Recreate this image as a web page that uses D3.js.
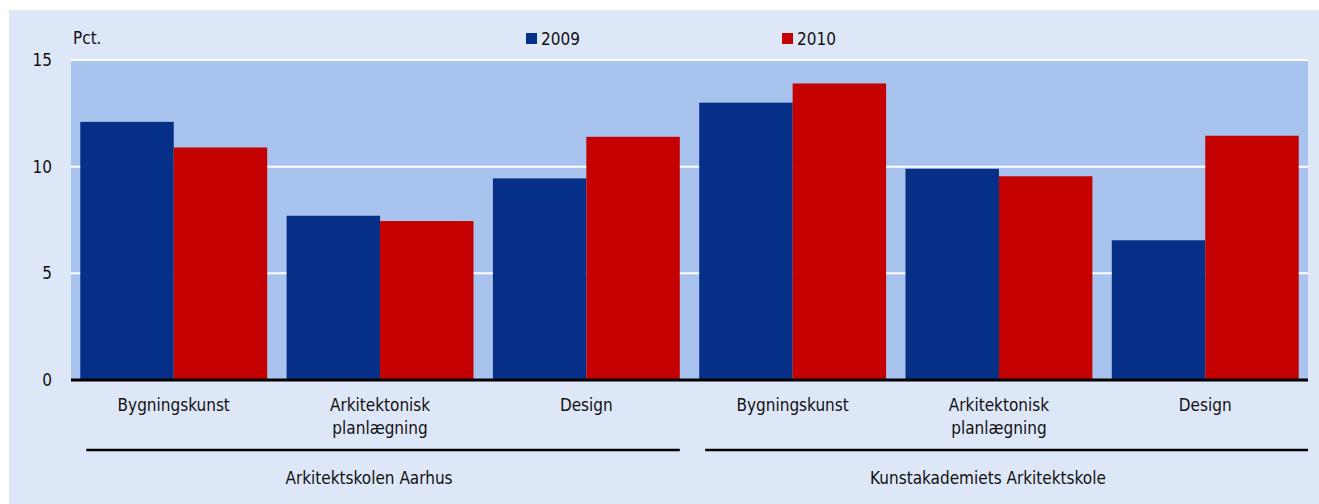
<!DOCTYPE html>
<html>
<head>
<meta charset="utf-8">
<script src="https://cdn.jsdelivr.net/npm/d3@7"></script>
<style>
  body { margin: 0; background: #ffffff; }
  svg text { font-family: "DejaVu Sans Condensed", "Liberation Sans Narrow", "Open Sans", sans-serif; fill: #111; }
</style>
</head>
<body>
<div id="chart"></div>
<script>
// Data
const categories = [
  ["Bygningskunst"], ["Arkitektonisk", "planlægning"], ["Design"],
  ["Bygningskunst"], ["Arkitektonisk", "planlægning"], ["Design"]
];
const schools = ["Arkitektskolen Aarhus", "Kunstakademiets Arkitektskole"];
const schoolOf = [0, 0, 0, 1, 1, 1];
const series = ["2009", "2010"];
const values2009 = [12.1, 7.7, 9.45, 13.0, 9.9, 6.55];
const values2010 = [10.9, 7.45, 11.4, 13.9, 9.55, 11.45];
const yTicks = [0, 5, 10, 15];
const colors = ["#062f87", "#c40000"];

const W = 1319, H = 504;
const plot = { left: 71, right: 1308, top: 60, bottom: 380 };
const fontSize = "17px";

const svg = d3.select("#chart").append("svg")
  .attr("width", W).attr("height", H);

// Panel background
svg.append("rect")
  .attr("x", 9).attr("y", 10)
  .attr("width", W - 9).attr("height", H - 10)
  .attr("fill", "#dee7f8");

// Plot area
svg.append("rect")
  .attr("x", plot.left).attr("y", plot.top)
  .attr("width", plot.right - plot.left).attr("height", plot.bottom - plot.top)
  .attr("fill", "#a8c3ed");

const x0 = d3.scaleBand()
  .domain(d3.range(categories.length))
  .range([plot.left, plot.right])
  .paddingInner(0.094)
  .paddingOuter(0.045);

const x1 = d3.scaleBand()
  .domain(series)
  .range([0, x0.bandwidth()]);

const y = d3.scaleLinear().domain([0, 15]).range([plot.bottom, plot.top]);

// Grid lines
svg.append("g")
  .selectAll("line")
  .data(yTicks.filter(d => d > 0))
  .join("line")
  .attr("x1", plot.left).attr("x2", plot.right)
  .attr("y1", d => y(d)).attr("y2", d => y(d))
  .attr("stroke", "#ffffff")
  .attr("stroke-width", 2);

// Bars
const rows = categories.map((c, i) => ({ i, vals: [values2009[i], values2010[i]] }));
const groups = svg.append("g").selectAll("g")
  .data(rows)
  .join("g")
  .attr("transform", d => `translate(${x0(d.i)},0)`);

groups.selectAll("rect")
  .data(d => d.vals.map((v, k) => ({ key: series[k], v, k })))
  .join("rect")
  .attr("x", d => x1(d.key))
  .attr("width", x1.bandwidth())
  .attr("y", d => y(d.v))
  .attr("height", d => y(0) - y(d.v))
  .attr("fill", d => colors[d.k]);

// Zero axis
svg.append("line")
  .attr("x1", plot.left).attr("x2", plot.right)
  .attr("y1", y(0)).attr("y2", y(0))
  .attr("stroke", "#000")
  .attr("stroke-width", 3);

// Y tick labels
svg.append("g")
  .selectAll("text")
  .data(yTicks)
  .join("text")
  .attr("x", 52)
  .attr("y", d => y(d))
  .attr("dy", "0.35em")
  .attr("text-anchor", "end")
  .style("font-size", fontSize)
  .text(d => d);

svg.append("text")
  .attr("x", 73).attr("y", 44)
  .style("font-size", fontSize)
  .text("Pct.");

// Legend
const legendX = [526, 782];
series.forEach((s, k) => {
  svg.append("rect")
    .attr("x", legendX[k]).attr("y", 33)
    .attr("width", 11).attr("height", 11)
    .attr("fill", colors[k]);
  svg.append("text")
    .attr("x", legendX[k] + 15).attr("y", 45)
    .style("font-size", fontSize)
    .text(s);
});

// Category labels
const catLabels = svg.append("g").selectAll("text")
  .data(categories)
  .join("text")
  .attr("x", (d, i) => x0(i) + x0.bandwidth() / 2)
  .attr("y", 411)
  .attr("text-anchor", "middle")
  .style("font-size", fontSize);

catLabels.selectAll("tspan")
  .data(d => d)
  .join("tspan")
  .attr("x", function() { return this.parentNode.getAttribute("x"); })
  .attr("dy", (d, j) => j === 0 ? 0 : 23)
  .text(d => d);

// School brackets and labels
schools.forEach((s, g) => {
  const idx = d3.range(categories.length).filter(i => schoolOf[i] === g);
  const first = idx[0], last = idx[idx.length - 1];
  const xa = x0(first) + 6;
  const xb = g === schools.length - 1 ? plot.right : x0(last) + x0.bandwidth();
  svg.append("line")
    .attr("x1", xa).attr("x2", xb)
    .attr("y1", 450).attr("y2", 450)
    .attr("stroke", "#000")
    .attr("stroke-width", 2.5);
  svg.append("text")
    .attr("x", (x0(first) + x0(last) + x0.bandwidth()) / 2 - 11)
    .attr("y", 484)
    .attr("text-anchor", "middle")
    .style("font-size", fontSize)
    .text(s);
});
</script>
</body>
</html>
